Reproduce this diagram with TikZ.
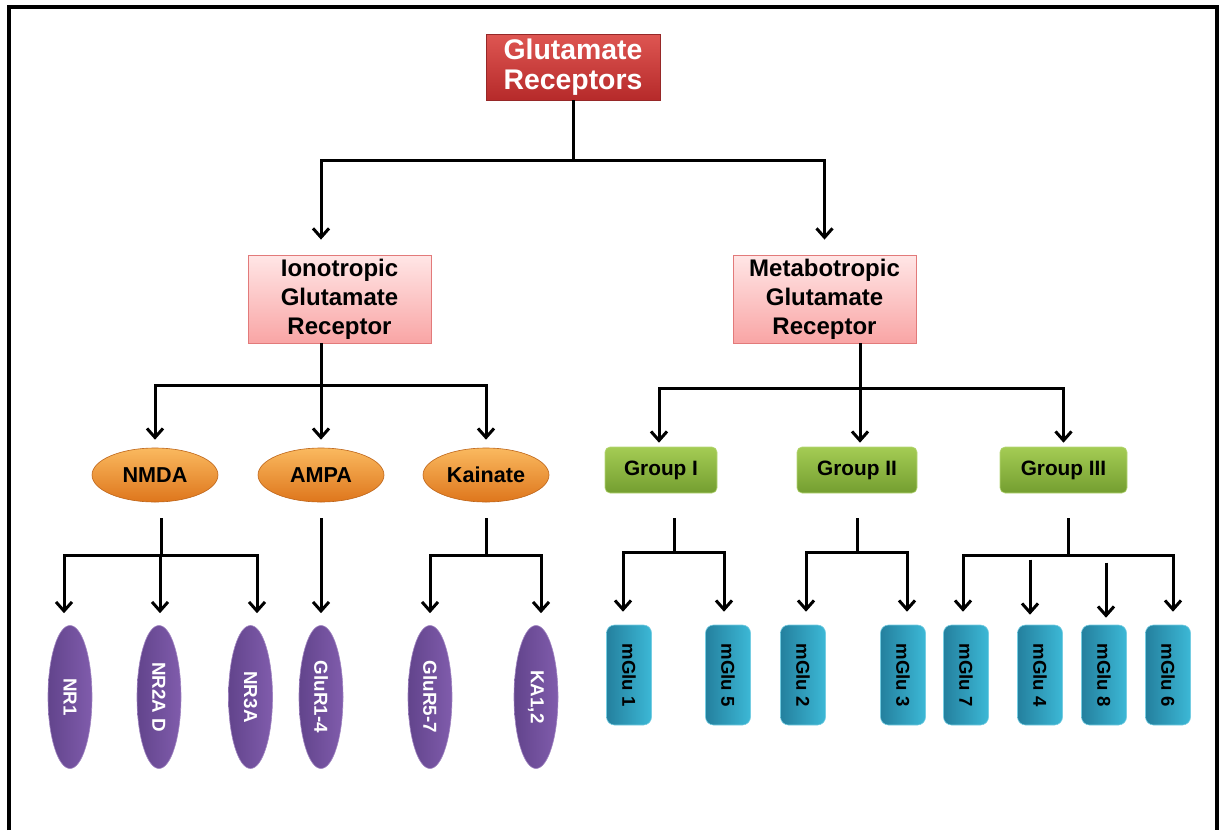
\documentclass[tikz,border=0pt]{standalone}
\usepackage{fontspec}
\setmainfont{Liberation Sans}
\usetikzlibrary{arrows.meta,shapes.geometric,positioning}
\definecolor{redtop}{RGB}{222,86,82}
\definecolor{redbot}{RGB}{182,42,42}
\definecolor{redline}{RGB}{150,40,40}
\definecolor{pinktop}{RGB}{255,230,230}
\definecolor{pinkbot}{RGB}{249,165,165}
\definecolor{pinkline}{RGB}{226,122,122}
\definecolor{orantop}{RGB}{250,185,95}
\definecolor{oranmid}{RGB}{244,150,50}
\definecolor{oranbot}{RGB}{222,118,28}
\definecolor{greentop}{RGB}{164,204,84}
\definecolor{greenbot}{RGB}{116,158,48}
\definecolor{purpL}{RGB}{98,68,140}
\definecolor{purpR}{RGB}{128,92,172}
\definecolor{tealL}{RGB}{36,128,158}
\definecolor{tealR}{RGB}{60,184,214}
\newcommand\vtext[1]{\rotatebox{-90}{#1}}

\begin{document}
\begin{tikzpicture}[x=0.5pt,y=-0.5pt,
  every node/.style={align=center, inner sep=0pt},
  line/.style={line width=1.5pt},
  arr/.style={line, -{Straight Barb[length=4.5pt,width=8pt]}},
  rootbox/.style={draw=redline, top color=redtop, bottom color=redbot, text=white,
    minimum width=87pt, minimum height=33pt, font=\bfseries\fontsize{14.2}{15.2}\selectfont},
  typebox/.style={draw=pinkline, top color=pinktop, bottom color=pinkbot,
    minimum width=91.5pt, minimum height=44pt, font=\bfseries\fontsize{12}{14.5}\selectfont},
  famoval/.style={ellipse, draw=oranbot!85!black, line width=0.3pt, top color=orantop,
    middle color=oranmid, bottom color=oranbot, minimum width=63pt, minimum height=27pt,
    font=\bfseries\fontsize{10.8}{12}\selectfont},
  grpbox/.style={rectangle, rounded corners=2.5pt, draw=greentop!80!white, line width=0.3pt,
    top color=greentop, bottom color=greenbot, minimum height=23pt,
    font=\bfseries\fontsize{10.4}{12}\selectfont},
  suboval/.style={ellipse, draw=purpR!75!white, line width=0.3pt, left color=purpL,
    right color=purpR, text=white, minimum width=22pt, minimum height=71.5pt,
    font=\bfseries\fontsize{9.4}{11}\selectfont},
  subbox/.style={rectangle, rounded corners=4pt, draw=tealR!70!white, line width=0.3pt,
    left color=tealL, right color=tealR, minimum width=22.5pt, minimum height=50pt,
    font=\bfseries\fontsize{9.3}{11}\selectfont}
  ]
\useasboundingbox (0,0) rectangle (1219,830);
\draw[line width=2pt] (9,830) -- (9,7) -- (1217,7) -- (1217,830);

\node[rootbox] (root) at (573,67) {Glutamate\\Receptors};
\node[typebox] (iono) at (339.5,299) {Ionotropic\\Glutamate\\Receptor};
\node[typebox] (meta) at (824.5,299) {Metabotropic\\Glutamate\\Receptor};

\node[famoval] (nmda) at (155,475) {NMDA};
\node[famoval] (ampa) at (321,475) {AMPA};
\node[famoval] (kain) at (486,475) {Kainate};
\node[grpbox, minimum width=56pt] (g1) at (661,470) {Group I};
\node[grpbox, minimum width=60pt] (g2) at (857,470) {Group II};
\node[grpbox, minimum width=63.5pt] (g3) at (1063.5,470) {Group III};

\node[suboval] (nr1) at (70,697) {\vtext{NR1}};
\node[suboval] (nr2) at (159,697) {\vtext{NR2A D}};
\node[suboval] (nr3) at (250.5,697) {\vtext{NR3A}};
\node[suboval] (glua) at (321,697) {\vtext{GluR1-4}};
\node[suboval] (glub) at (430,697) {\vtext{GluR5-7}};
\node[suboval] (ka) at (536,697) {\vtext{KA1,2}};

\node[subbox] (m1) at (629,675) {\vtext{mGlu 1}};
\node[subbox] (m5) at (728,675) {\vtext{mGlu 5}};
\node[subbox] (m2) at (803,675) {\vtext{mGlu 2}};
\node[subbox] (m3) at (903,675) {\vtext{mGlu 3}};
\node[subbox] (m7) at (966,675) {\vtext{mGlu 7}};
\node[subbox] (m4) at (1040,675) {\vtext{mGlu 4}};
\node[subbox] (m8) at (1104,675) {\vtext{mGlu 8}};
\node[subbox] (m6) at (1168,675) {\vtext{mGlu 6}};

\draw[line] (root.south) -- (573,160) coordinate (rj);
\draw[arr, shorten >=7.5pt] (rj) -| ([xshift=-9.25pt]iono.north);
\draw[arr, shorten >=7.5pt] (rj) -| (meta.north);

\draw[line] ([xshift=-9.25pt]iono.south) -- ++(0,42) coordinate (ij);
\draw[arr, shorten >=4pt] (ij) -| (nmda.north);
\draw[arr, shorten >=4pt] (ij) -- (ampa.north);
\draw[arr, shorten >=4pt] (ij) -| (kain.north);

\draw[line] ([xshift=17.75pt]meta.south) -- ++(0,45) coordinate (mj);
\draw[arr, shorten >=2pt] (mj) -| ([xshift=-1pt]g1.north);
\draw[arr, shorten >=2pt] (mj) -- (mj |- g2.north);
\draw[arr, shorten >=2pt] (mj) -| (g3.north);

\draw[line, shorten <=8pt] ([xshift=3pt]nmda.south) -- ++(0,53) coordinate (nj);
\draw[arr, shorten >=6pt] (nj) -| ([xshift=-3pt]nr1.north);
\draw[arr, shorten >=6pt] (nj) -| ([xshift=0.5pt]nr2.north);
\draw[arr, shorten >=6pt] (nj) -| ([xshift=3.25pt]nr3.north);
\draw[arr, shorten <=8pt, shorten >=6pt] (ampa.south) -- (glua.north);
\draw[line, shorten <=8pt] (kain.south) -- ++(0,53) coordinate (kj);
\draw[arr, shorten >=6pt] (kj) -| (glub.north);
\draw[arr, shorten >=6pt] (kj) -| ([xshift=2.5pt]ka.north);

\draw[line, shorten <=12.5pt] ([xshift=6.5pt]g1.south) -- ++(0,59) coordinate (g1j);
\draw[arr, shorten >=6.5pt] (g1j) -| ([xshift=-3pt]m1.north);
\draw[arr, shorten >=6.5pt] (g1j) -| ([xshift=-2pt]m5.north);
\draw[line, shorten <=12.5pt] (g2.south) -- ++(0,59) coordinate (g2j);
\draw[arr, shorten >=6.5pt] (g2j) -| ([xshift=1.5pt]m2.north);
\draw[arr, shorten >=6.5pt] (g2j) -| ([xshift=2pt]m3.north);
\draw[line, shorten <=12.5pt] ([xshift=2.25pt]g3.south) -- ++(0,62) coordinate (g3j);
\draw[arr, shorten >=6.5pt] (g3j) -| ([xshift=-1.5pt]m7.north);
\draw[arr, shorten >=6.5pt] (g3j) -| ([xshift=2.5pt]m6.north);
\draw[arr, shorten >=5pt] ([xshift=-5pt,yshift=32.5pt]m4.north) -- ([xshift=-5pt]m4.north);
\draw[arr, shorten >=3.5pt] ([xshift=1pt,yshift=31pt]m8.north) -- ([xshift=1pt]m8.north);
\end{tikzpicture}
\end{document}
